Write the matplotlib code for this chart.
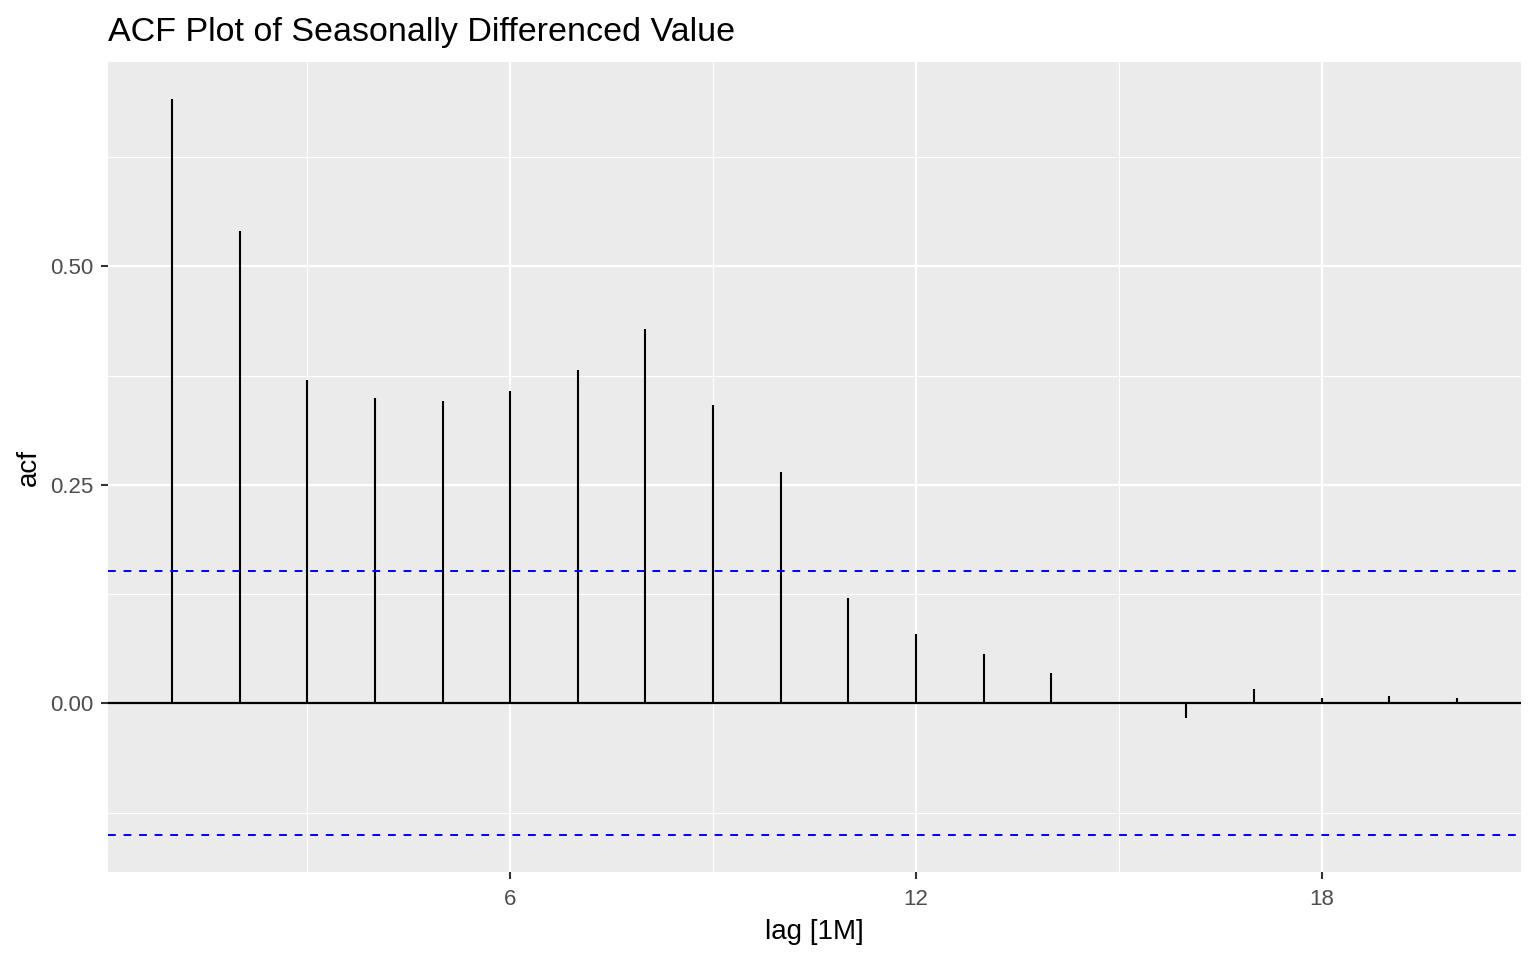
import matplotlib.pyplot as plt
from matplotlib.ticker import MultipleLocator

plt.rcParams['font.family'] = ['Liberation Sans', 'DejaVu Sans']

lags = list(range(1, 21))
acf = [0.692, 0.541, 0.370, 0.350, 0.346, 0.357, 0.382, 0.429, 0.342, 0.265,
       0.121, 0.079, 0.057, 0.035, 0.001, -0.017, 0.017, 0.006, 0.008, 0.006]
ci = 0.151

fig = plt.figure(figsize=(15.36, 9.6), dpi=100)
ax = fig.add_axes([108 / 1536, 1 - 872 / 960, (1521 - 108) / 1536, (872 - 62) / 960])
ax.set_facecolor('#EBEBEB')

ax.vlines(lags, 0, acf, color='black', linewidth=1.5, zorder=3)
ax.axhline(0, color='black', linewidth=1.6, zorder=3)
ax.axhline(ci, color='blue', linestyle=(0, (4, 4)), linewidth=1.4, zorder=3)
ax.axhline(-ci, color='blue', linestyle=(0, (4, 4)), linewidth=1.4, zorder=3)

ax.set_xlim(0.05, 20.95)
ax.set_ylim(-0.193, 0.734)
ax.xaxis.set_major_locator(MultipleLocator(6))
ax.xaxis.set_minor_locator(MultipleLocator(3))
ax.yaxis.set_major_locator(MultipleLocator(0.25))
ax.yaxis.set_minor_locator(MultipleLocator(0.125))
ax.yaxis.set_major_formatter(plt.FuncFormatter(lambda v, p: f'{v:.2f}'))

ax.grid(which='major', color='white', linewidth=1.6)
ax.grid(which='minor', color='white', linewidth=0.8)
ax.set_axisbelow(True)
for s in ax.spines.values():
    s.set_visible(False)

ax.tick_params(which='major', length=5, width=1.5, color='#333333',
               labelsize=16, labelcolor='#4D4D4D')
ax.tick_params(axis='x', which='major', pad=7.5)
ax.tick_params(axis='y', which='major', pad=5.5)
ax.tick_params(which='minor', length=0)

ax.set_xlabel('lag [1M]', fontsize=20, labelpad=6)
ax.set_ylabel('acf', fontsize=20, labelpad=6)
ax.set_title('ACF Plot of Seasonally Differenced Value', fontsize=24.5, loc='left', pad=15)

fig.savefig('out.png', dpi=100)
